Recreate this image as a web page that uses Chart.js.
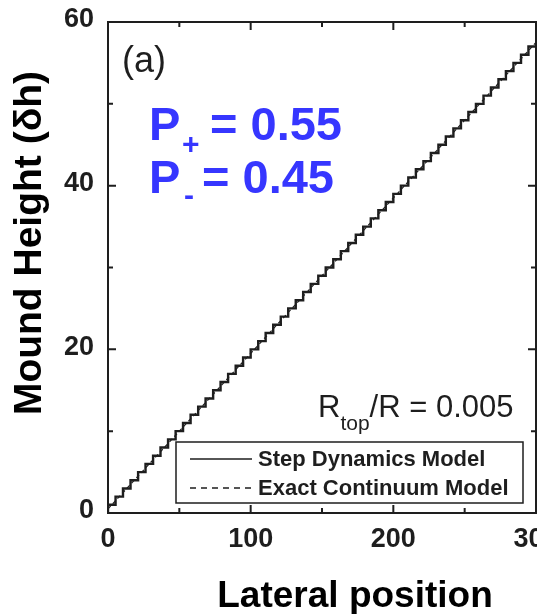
<!DOCTYPE html>
<html>
<head>
<meta charset="utf-8">
<script src="https://cdn.jsdelivr.net/npm/chart.js@4"></script>
<style>
  html, body { margin: 0; padding: 0; background: #fff; }
  canvas { display: block; }
</style>
</head>
<body>
<canvas id="mound-chart" width="537" height="614"></canvas>
<script>
  // step edges (lateral position) and heights of the staircase
  const stepX = [0, 5.3, 10.5, 15.8, 21.1, 26.3, 31.6, 36.8, 42.1, 47.4, 52.6, 57.9, 63.2, 68.4, 73.7, 78.9,
    84.2, 89.5, 94.7, 100.0, 105.3, 110.5, 115.8, 121.1, 126.3, 131.6, 136.8, 142.1, 147.4, 152.6, 157.9,
    163.2, 168.4, 173.7, 178.9, 184.2, 189.5, 194.7, 200.0, 205.3, 210.5, 215.8, 221.1, 226.3, 231.6, 236.8,
    242.1, 247.4, 252.6, 257.9, 263.2, 268.4, 273.7, 278.9, 284.2, 289.5, 294.7, 300.0];
  const stepH = [0, 1, 2, 3, 4, 5, 6, 7, 8, 9, 10, 11, 12, 13, 14, 15, 16, 17, 18, 19, 20, 21, 22, 23, 24, 25,
    26, 27, 28, 29, 30, 31, 32, 33, 34, 35, 36, 37, 38, 39, 40, 41, 42, 43, 44, 45, 46, 47, 48, 49, 50, 51,
    52, 53, 54, 55, 56, 57];

  // continuum model
  const contX = [0, 50, 100, 150, 200, 250, 300];
  const contH = [0.5, 10.0, 19.5, 29.0, 38.5, 48.0, 57.5];

  const xMajor = [0, 100, 200, 300];
  const xMinor = [50, 150, 250];
  const yMajor = [0, 20, 40, 60];
  const yMinor = [10, 30, 50];

  const ink = "#1e1e1e";
  const font = "'Liberation Sans', Arial, sans-serif";

  const framePlugin = {
    id: "frame",
    afterDatasetsDraw(chart) {
      const c = chart.ctx;
      const a = chart.chartArea;
      const xs = chart.scales.x;
      const ys = chart.scales.y;
      c.save();

      // frame
      c.strokeStyle = ink;
      c.lineWidth = 2;
      c.strokeRect(a.left, a.top, a.right - a.left, a.bottom - a.top);

      // inward ticks
      function xtick(v, len) {
        const px = xs.getPixelForValue(v);
        c.beginPath();
        c.moveTo(px, a.bottom); c.lineTo(px, a.bottom - len);
        c.moveTo(px, a.top); c.lineTo(px, a.top + len);
        c.stroke();
      }
      function ytick(v, len) {
        const py = ys.getPixelForValue(v);
        c.beginPath();
        c.moveTo(a.left, py); c.lineTo(a.left + len, py);
        c.moveTo(a.right, py); c.lineTo(a.right - len, py);
        c.stroke();
      }
      xMajor.forEach(v => xtick(v, 8));
      xMinor.forEach(v => xtick(v, 5));
      yMajor.forEach(v => ytick(v, 8));
      yMinor.forEach(v => ytick(v, 5));

      // tick labels
      c.fillStyle = ink;
      c.font = "bold 27px " + font;
      c.textAlign = "center";
      c.textBaseline = "middle";
      xMajor.forEach(v => c.fillText(String(v), xs.getPixelForValue(v), a.bottom + 27));
      c.textAlign = "right";
      yMajor.forEach(v => c.fillText(String(v), a.left - 14, ys.getPixelForValue(v) - 2));

      // axis titles
      c.fillStyle = "#000";
      c.font = "bold 37px " + font;
      c.textAlign = "center";
      c.fillText("Lateral position", 355, 597);
      c.save();
      c.translate(30, 243);
      c.rotate(-Math.PI / 2);
      c.font = "bold 39px " + font;
      c.fillText("Mound Height (\u03B4h)", 0, 0);
      c.restore();

      // panel label
      c.fillStyle = ink;
      c.font = "36px " + font;
      c.textAlign = "left";
      c.fillText("(a)", 122, 62);

      // probabilities
      c.fillStyle = "#3636ff";
      c.textBaseline = "alphabetic";
      c.font = "bold 47px " + font;
      c.fillText("P", 149, 140);
      c.font = "bold 30px " + font;
      c.fillText("+", 182, 154);
      c.font = "bold 47px " + font;
      c.fillText("= 0.55", 210, 140);
      c.fillText("P", 149, 193);
      c.font = "bold 30px " + font;
      c.fillText("-", 184, 205);
      c.font = "bold 47px " + font;
      c.fillText("= 0.45", 202, 193);

      // ratio annotation
      c.fillStyle = ink;
      c.font = "31px " + font;
      c.fillText("R", 318, 417);
      const rw = c.measureText("R").width;
      c.font = "21px " + font;
      c.fillText("top", 318 + rw, 430);
      const tw = c.measureText("top").width;
      c.font = "31px " + font;
      c.fillText("/R = 0.005", 318 + rw + tw, 417);

      // legend box
      c.fillStyle = "#fff";
      c.fillRect(176, 442, 347, 61);
      c.lineWidth = 1.5;
      c.strokeStyle = ink;
      c.strokeRect(176, 442, 347, 61);
      c.lineWidth = 1.6;
      c.beginPath();
      c.moveTo(190, 459); c.lineTo(252, 459);
      c.stroke();
      c.setLineDash([6, 5]);
      c.lineWidth = 1.3;
      c.beginPath();
      c.moveTo(190, 488); c.lineTo(252, 488);
      c.stroke();
      c.setLineDash([]);
      c.fillStyle = ink;
      c.font = "bold 22px " + font;
      c.textBaseline = "middle";
      c.fillText("Step Dynamics Model", 258, 460);
      c.fillText("Exact Continuum Model", 258, 489);

      c.restore();
    }
  };

  const ctx = document.getElementById("mound-chart").getContext("2d");
  const chart = new Chart(ctx, {
    type: "line",
    data: {
      datasets: [{
        label: "Step Dynamics Model",
        data: stepX.map((x, i) => ({ x: x, y: stepH[i] })),
        borderColor: ink,
        borderWidth: 2.4,
        stepped: "after",
        pointRadius: 0,
        fill: false
      }, {
        label: "Exact Continuum Model",
        data: contX.map((x, i) => ({ x: x, y: contH[i] })),
        borderColor: ink,
        borderWidth: 1.2,
        borderDash: [4, 3],
        pointRadius: 0,
        tension: 0,
        fill: false
      }]
    },
    options: {
      responsive: false,
      animation: false,
      devicePixelRatio: 1,
      layout: { padding: { left: 108, right: 1, top: 22, bottom: 101 } },
      plugins: { legend: { display: false }, tooltip: { enabled: false } },
      scales: {
        x: { type: "linear", min: 0, max: 300, display: false },
        y: { type: "linear", min: 0, max: 60, display: false }
      }
    },
    plugins: [framePlugin]
  });
</script>
</body>
</html>
